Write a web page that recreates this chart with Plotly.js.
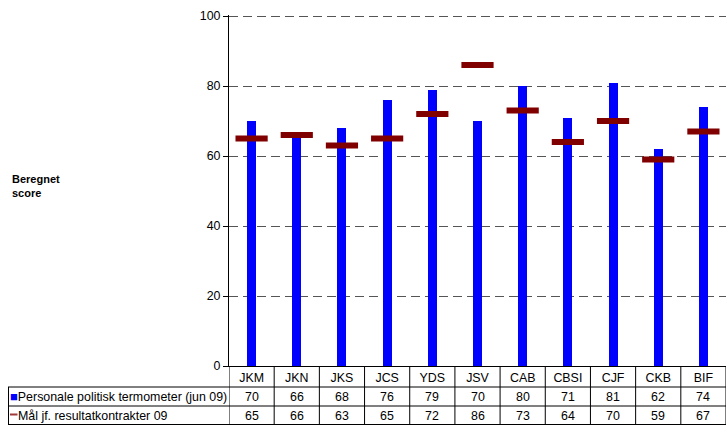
<!DOCTYPE html>
<html>
<head>
<meta charset="utf-8">
<script src="https://cdn.plot.ly/plotly-3.0.1.min.js"></script>
<style>html,body{margin:0;padding:0;background:#fff;}</style>
</head>
<body>
<div id="chart" style="width:726px;height:425px;"></div>
<script>
var categories = ["JKM","JKN","JKS","JCS","YDS","JSV","CAB","CBSI","CJF","CKB","BIF"];
var termometer = [70,66,68,76,79,70,80,71,81,62,74];
var maal = [65,66,63,65,72,86,73,64,70,59,67];
var seriesNames = ["Personale politisk termometer (jun 09)", "Mål jf. resultatkontrakter 09"];
var yTitle = "Beregnet<br>score";

var W = 726, H = 425, L = 229, R = 0, T = 15, B = 59;
var plotW = W - L - R, plotH = H - T - B;
function px2paperX(px){ return (px - L) / plotW; }
function px2paperY(py){ return (H - B - py) / plotH; }

var font = "Liberation Sans, Arial, sans-serif";

var traces = [
  {type:"bar", x:categories, y:termometer, name:seriesNames[0], width:0.2,
   marker:{color:"#0000ff"}, showlegend:false, hoverinfo:"x+y"},
  {type:"scatter", mode:"markers", x:categories, y:maal, name:seriesNames[1],
   marker:{symbol:"line-ew", size:23, color:"#800000", line:{color:"#800000", width:6}},
   showlegend:false, hoverinfo:"x+y"}
];

var rowY1 = px2paperY(396.5), rowY2 = px2paperY(415.5);
var annotations = [];
annotations.push({xref:"paper", yref:"paper", x:px2paperX(10), y:px2paperY(186), xanchor:"left", yanchor:"middle",
  text:"<b>"+yTitle+"</b>", showarrow:false, align:"left", font:{family:font, size:11, color:"#000"}});
annotations.push({xref:"paper", yref:"paper", x:px2paperX(8), y:rowY1, xanchor:"left", yanchor:"middle",
  text:"<span style='color:#0000ff;font-size:13px'>■</span>"+seriesNames[0], showarrow:false, font:{family:font, size:12.4, color:"#000"}});
annotations.push({xref:"paper", yref:"paper", x:px2paperX(16), y:rowY2, xanchor:"left", yanchor:"middle",
  text:seriesNames[1], showarrow:false, font:{family:font, size:12.4, color:"#000"}});
categories.forEach(function(c, i){
  annotations.push({xref:"x", yref:"paper", x:c, y:rowY1, yanchor:"middle", text:String(termometer[i]), showarrow:false, font:{family:font, size:12.4, color:"#000"}});
  annotations.push({xref:"x", yref:"paper", x:c, y:rowY2, yanchor:"middle", text:String(maal[i]), showarrow:false, font:{family:font, size:12.4, color:"#000"}});
});

var shapes = [];
var lineStyle = {color:"#000", width:1};
var bottomY = px2paperY(424.5);
for (var i = 0; i <= categories.length; i++) {
  shapes.push({type:"line", xref:"x", yref:"paper", x0:i-0.5, x1:i-0.5, y0:0, y1:bottomY, line:lineStyle});
}
[387, 406, 424.5].forEach(function(py){
  shapes.push({type:"line", xref:"paper", yref:"paper", x0:px2paperX(8), x1:1, y0:px2paperY(py), y1:px2paperY(py), line:lineStyle});
});
shapes.push({type:"line", xref:"paper", yref:"paper", x0:px2paperX(8.5), x1:px2paperX(8.5), y0:px2paperY(387), y1:bottomY, line:lineStyle});
// legend key for the target series
shapes.push({type:"line", xref:"paper", yref:"paper", x0:px2paperX(10), x1:px2paperX(17.5), y0:px2paperY(414.5), y1:px2paperY(414.5), line:{color:"#a03a3a", width:2}});

var layout = {
  width:W, height:H,
  margin:{l:L, r:R, t:T, b:B, pad:0},
  paper_bgcolor:"#fff", plot_bgcolor:"#fff",
  font:{family:font, size:12, color:"#000"},
  showlegend:false,
  xaxis:{type:"category", range:[-0.5, categories.length-0.5], showgrid:false, zeroline:false,
    showline:true, linecolor:"#000", linewidth:1, ticks:"", tickfont:{family:font, size:12.4, color:"#000"},
    fixedrange:true},
  yaxis:{range:[0,100.3], tickvals:[0,20,40,60,80,100], showgrid:true, gridcolor:"#555555", gridwidth:1, griddash:"9px,5px",
    zeroline:false, showline:true, linecolor:"#000", linewidth:1, ticks:"outside", ticklen:5, tickcolor:"#000",
    tickfont:{family:font, size:12.4, color:"#000"}, fixedrange:true},
  annotations:annotations,
  shapes:shapes,
  bargap:0
};

Plotly.newPlot("chart", traces, layout, {displayModeBar:false, staticPlot:true});
</script>
</body>
</html>
